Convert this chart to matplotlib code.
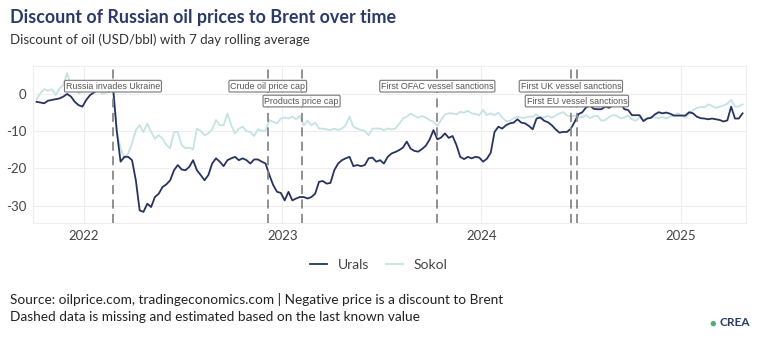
# discount of russian crude to brent

import numpy as np
import pandas as pd
import matplotlib
matplotlib.use('Agg')
import matplotlib.pyplot as plt
import matplotlib.dates as mdates

# weekly readings, starting 2021-10-07
start = '2021-10-07'
urals = [-2.1, -2.3, -2.5, -1.8, -1.6, -1.4, -1.2, -0.7, 0.0, -0.7,
         -2.1, -3.0, -3.4, -1.6, -0.3, 0.4, 1.1, 1.3, 1.1, 0.6,
         2.0, -10.0, -18.2, -16.9, -16.9, -17.8, -23.2, -31.3, -31.7, -29.5,
         -30.4, -27.7, -26.8, -25.0, -24.3, -23.2, -20.5, -19.1, -20.3, -20.5,
         -19.6, -17.8, -20.5, -21.8, -23.2, -21.8, -18.7, -17.3, -18.2, -19.4,
         -17.8, -17.3, -16.9, -17.8, -17.3, -17.8, -18.7, -17.6, -17.6, -18.2,
         -18.7, -21.8, -24.5, -26.3, -26.6, -28.6, -26.3, -28.6, -28.1, -27.7,
         -27.7, -28.1, -27.7, -26.8, -23.6, -23.4, -24.1, -23.9, -20.5, -18.7,
         -17.8, -17.3, -16.9, -19.4, -19.1, -19.4, -19.1, -17.3, -17.1, -18.2,
         -17.8, -18.7, -16.9, -16.0, -15.6, -15.1, -14.4, -12.8, -14.7, -15.3,
         -15.5, -14.8, -13.9, -12.2, -9.7, -12.2, -11.7, -10.6, -11.8, -11.3,
         -13.7, -16.9, -17.5, -16.9, -17.3, -16.9, -17.1, -18.2, -17.4, -15.8,
         -10.2, -8.8, -9.3, -8.4, -7.9, -7.7, -6.8, -7.7, -7.9, -8.6,
         -9.5, -6.6, -6.3, -7.2, -7.6, -8.4, -9.5, -10.4, -10.2, -10.2,
         -9.3, -7.5, -5.4, -4.9, -3.6, -3.1, -4.0, -4.1, -4.1, -3.4,
         -3.7, -3.1, -1.0, -2.1, -4.1, -4.3, -5.7, -5.7, -5.7, -7.3,
         -6.6, -6.4, -5.5, -4.9, -5.2, -5.0, -5.3, -5.8, -5.8, -5.8,
         -5.8, -4.9, -5.2, -6.1, -6.5, -6.6, -6.8, -6.6, -6.8, -7.0,
         -7.4, -7.1, -3.4, -6.6, -6.6, -5.2]
sokol = [-1.4, 0.2, 1.3, 0.9, 1.3, -0.3, 1.5, 2.4, 5.6, 2.4,
         1.5, 0.2, 0.6, 2.0, 1.1, 2.4, 2.9, 0.2, 0.2, 0.9,
         3.8, -10.0, -14.6, -17.3, -16.0, -13.3, -9.7, -8.4, -10.2, -7.9,
         -10.2, -12.0, -11.1, -12.0, -13.7, -14.6, -10.2, -10.2, -13.7, -14.6,
         -14.4, -14.9, -9.3, -9.9, -11.1, -10.6, -9.5, -7.0, -8.4, -8.4,
         -5.2, -8.4, -10.6, -9.3, -8.8, -10.0, -10.2, -11.3, -9.5, -9.9,
         -9.9, -7.0, -7.5, -7.9, -6.6, -6.3, -6.6, -6.1, -6.8, -5.9,
         -8.4, -7.2, -8.4, -7.7, -9.3, -9.3, -9.5, -9.7, -9.3, -9.7,
         -9.3, -8.4, -6.1, -8.8, -9.3, -9.7, -9.9, -11.1, -9.3, -9.3,
         -9.3, -9.7, -9.3, -9.5, -9.3, -8.1, -6.6, -6.1, -5.3, -5.8,
         -6.4, -5.9, -6.4, -7.0, -7.5, -8.6, -7.0, -5.5, -5.2, -5.2,
         -5.5, -4.8, -5.0, -4.5, -5.2, -5.4, -5.7, -4.3, -5.7, -5.2,
         -5.7, -5.0, -6.3, -7.3, -7.2, -6.5, -6.1, -6.4, -6.4, -6.1,
         -6.1, -5.4, -6.6, -6.3, -5.9, -6.4, -5.8, -5.2, -4.9, -5.8,
         -6.0, -5.8, -6.4, -6.2, -5.7, -6.5, -6.0, -5.9, -7.2, -7.0,
         -6.2, -5.7, -5.8, -6.6, -6.3, -5.8, -6.8, -7.2, -6.3, -7.0,
         -6.4, -6.3, -6.3, -6.5, -6.2, -6.6, -6.1, -5.8, -5.2, -5.7,
         -6.4, -5.3, -4.3, -3.8, -3.5, -3.6, -2.8, -3.2, -3.8, -3.4,
         -3.1, -2.6, -1.6, -3.4, -3.4, -2.8]

events = ['Russia invades Ukraine', 'Crude oil price cap', 'Products price cap',
          'First OFAC vessel sanctions', 'First UK vessel sanctions', 'First EU vessel sanctions']
event_dates = ['2022-02-24', '2022-12-05', '2023-02-05', '2023-10-12', '2024-06-13', '2024-06-24']
event_row = [0, 0, 1, 0, 0, 1]

years = ['2022', '2023', '2024', '2025']
yticks = [0, -10, -20, -30]

navy = '#26335f'
teal = '#c4e3e2'
plt.rcParams['font.family'] = ['Lato', 'DejaVu Sans']

dates = pd.date_range(start, periods=len(urals), freq='7D')

fig = plt.figure(figsize=(7.58, 3.37), dpi=100)
ax = fig.add_axes([0.044, 0.337, 0.940, 0.468])

ax.plot(dates, sokol, color=teal, lw=1.3, label='Sokol', zorder=3)
ax.plot(dates, urals, color=navy, lw=1.3, label='Urals', zorder=4)

for name, d, r in zip(events, event_dates, event_row):
    d = pd.Timestamp(d)
    ax.axvline(d, color='#888888', lw=1.3, ls=(0, (5, 3)), zorder=5)
    yv = 2.1 if r == 0 else -1.9
    ax.text(d, yv, name, ha='center', va='center', fontsize=6.4, color='#555555',
            family=['Liberation Sans', 'DejaVu Sans'], zorder=6,
            bbox=dict(boxstyle='round,pad=0.15,rounding_size=0.15', fc='white', ec='#777777', lw=0.8))

ax.set_xlim(pd.Timestamp('2021-10-01'), pd.Timestamp('2025-04-30'))
ax.set_ylim(-34.8, 7.6)
ax.set_xticks([pd.Timestamp(y + '-01-01') for y in years])
ax.set_xticklabels(years)
ax.set_yticks(yticks)
ax.set_yticklabels([str(v) for v in yticks])
ax.tick_params(length=0, labelsize=9.5, colors='#444444', pad=5)
ax.grid(True, color='#eeeeee', lw=0.8)
ax.set_axisbelow(True)
for s in ax.spines.values():
    s.set_color('#eeeeee')
    s.set_linewidth(0.8)

h, l = ax.get_legend_handles_labels()
fig.legend(h[::-1], l[::-1], loc='center', bbox_to_anchor=(0.50, 1 - 265 / 337), ncol=2,
           frameon=False, fontsize=10, labelcolor='#444444', handlelength=1.2, columnspacing=1.2)

fig.text(10 / 758, 1 - 17 / 337, 'Discount of Russian oil prices to Brent over time',
         fontsize=12.9, fontweight='bold', color='#2b3a67', va='center')
fig.text(10 / 758, 1 - 40 / 337, 'Discount of oil (USD/bbl) with 7 day rolling average',
         fontsize=9.5, color='#333333', va='center')
fig.text(10 / 758, 1 - 300 / 337, 'Source: oilprice.com, tradingeconomics.com | Negative price is a discount to Brent',
         fontsize=9.85, color='#222222', va='center')
fig.text(10 / 758, 1 - 317 / 337, 'Dashed data is missing and estimated based on the last known value',
         fontsize=9.85, color='#222222', va='center')
fig.text(713 / 758, 1 - 323 / 337, '\u25cf', fontsize=8, color='#4caf6a', va='center', ha='center')
fig.text(719 / 758, 1 - 323 / 337, 'CREA', fontsize=8.5, fontweight='bold', color='#2b3a67', va='center')

plt.savefig('out.png', dpi=100)
